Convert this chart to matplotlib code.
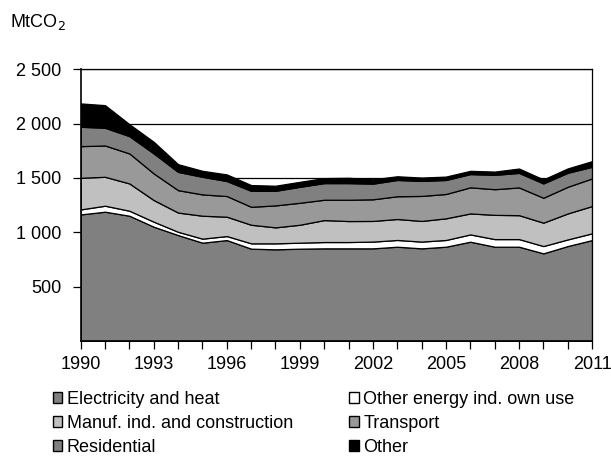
import numpy as np
import matplotlib
matplotlib.use("Agg")
import matplotlib.pyplot as plt
from matplotlib.patches import Patch

plt.rcParams["font.family"] = ["Liberation Sans", "DejaVu Sans"]

years = list(range(1990, 2012))

# MtCO2 by sector
electricity = [1164, 1189, 1152, 1051, 974, 904, 928, 849, 843, 849, 852,
               852, 852, 867, 852, 867, 913, 867, 867, 806, 873, 928]
other_energy = [46, 55, 46, 46, 30, 37, 37, 49, 55, 55, 58,
                58, 62, 62, 62, 62, 67, 70, 70, 67, 61, 62]
manuf = [291, 266, 251, 199, 177, 211, 178, 171, 147, 165, 202,
         193, 190, 193, 190, 199, 193, 223, 220, 215, 239, 251]
transport = [291, 288, 276, 245, 206, 196, 190, 165, 202, 202, 187,
             196, 199, 209, 230, 224, 240, 236, 255, 229, 245, 254]
residential = [178, 163, 159, 184, 168, 162, 138, 147, 134, 147, 153,
               153, 144, 150, 138, 129, 122, 132, 134, 132, 129, 107]
other = [215, 208, 110, 107, 71, 55, 61, 53, 47, 46, 46,
         49, 40, 34, 31, 31, 30, 30, 40, 37, 40, 52]

labels = ["Electricity and heat", "Other energy ind. own use",
          "Manuf. ind. and construction", "Transport",
          "Residential", "Other"]
colors = ["#808080", "#ffffff", "#c0c0c0", "#999999", "#808080", "#000000"]

fs = 13

fig = plt.figure(figsize=(6.11, 4.58), dpi=100)
ax = fig.add_axes([0.132, 0.2555, 0.837, 0.5935])

for y in [500, 1000, 1500, 2000, 2500]:
    ax.axhline(y, color="black", lw=0.9, zorder=0)

ax.stackplot(years, electricity, other_energy, manuf, transport, residential, other,
             colors=colors, edgecolor="black", linewidth=0.9, zorder=2)

ax.set_xlim(1990, 2011)
ax.set_ylim(0, 2500)
ax.set_yticks([500, 1000, 1500, 2000, 2500])
ax.set_yticklabels(["500", "1 000", "1 500", "2 000", "2 500"])
ax.set_xticks(years, minor=True)
ax.set_xticks(list(range(1990, 2012, 3)))
ax.tick_params(axis="both", which="major", labelsize=fs, length=6, width=0.9,
               direction="out", color="black")
ax.tick_params(axis="x", which="minor", length=6, width=0.9, direction="out")
ax.tick_params(axis="x", pad=5)
ax.tick_params(axis="y", pad=8)
for s in ax.spines.values():
    s.set_linewidth(0.9)
    s.set_zorder(3)
ax.spines["left"].set_linewidth(1.2)
ax.spines["bottom"].set_linewidth(1.2)

fig.text(0.016, 0.952, "MtCO$_2$", fontsize=fs, va="center", ha="left")

handles = [Patch(facecolor=c, edgecolor="black", linewidth=1.0) for c in colors]
common = dict(loc="upper left", frameon=False, fontsize=fs, handlelength=0.55,
              handleheight=0.55, handletextpad=0.25, labelspacing=0.38,
              borderaxespad=0, borderpad=0)
leg1 = fig.legend(handles[0::2], labels[0::2], bbox_to_anchor=(0.086, 0.146), **common)
leg2 = fig.legend(handles[1::2], labels[1::2], bbox_to_anchor=(0.571, 0.146), **common)

fig.savefig("out.png", dpi=100)
